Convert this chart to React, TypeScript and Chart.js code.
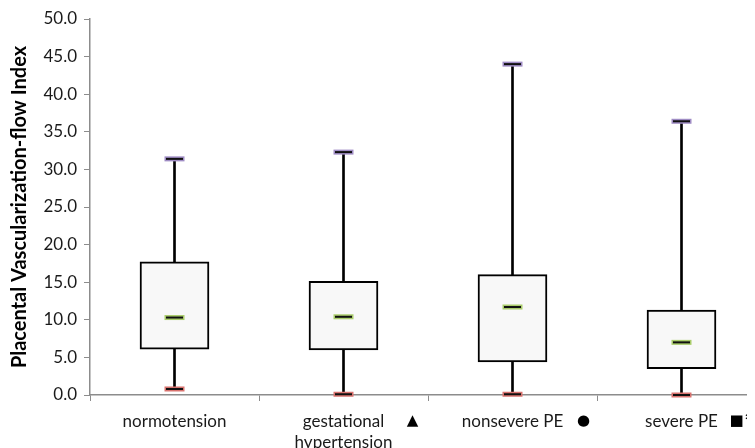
import React, { useEffect, useRef } from "react";
import { Chart, registerables } from "chart.js";

Chart.register(...registerables);

const categories: (string | string[])[] = [
  "normotension",
  ["gestational", "hypertension"],
  "nonsevere PE",
  "severe PE",
];
const markers = ["", "▲", "●", "■"];
const extraMarks = ["", "", "", "*"];
const minVals = [0.8, 0.1, 0.1, 0.0];
const q1Vals = [6.1, 6.0, 4.4, 3.5];
const medianVals = [10.3, 10.4, 11.7, 7.0];
const q3Vals = [17.7, 15.1, 16.0, 11.3];
const maxVals = [31.4, 32.3, 44.0, 36.4];
const yTicks = { min: 0, max: 50, step: 5 };
const yTitle = "Placental Vascularization-flow Index";

const FONT = "Lato, 'Open Sans', sans-serif";

const capPlugin = {
  id: "caps",
  afterDatasetsDraw(chart: any) {
    const { ctx, scales } = chart;
    const x = scales.x;
    const y = scales.y;
    const drawCap = (cx: number, v: number, color: string) => {
      const cy = y.getPixelForValue(v);
      ctx.save();
      ctx.fillStyle = color;
      ctx.fillRect(cx - 10, cy - 2.5, 20, 5);
      ctx.fillStyle = "#111111";
      ctx.fillRect(cx - 8.5, cy - 1, 17, 2);
      ctx.restore();
    };
    categories.forEach((_, i) => {
      const cx = x.getPixelForValue(i);
      drawCap(cx, maxVals[i], "#9f8cc4");
      drawCap(cx, minVals[i], "#d9736f");
      drawCap(cx, medianVals[i], "#a9cc6a");
    });
  },
  afterDraw(chart: any) {
    const { ctx, scales } = chart;
    const x = scales.x;
    const dx = [0, 69, 71, 55];
    const ty = chart.chartArea.bottom + 26;
    ctx.save();
    ctx.fillStyle = "#000000";
    ctx.textAlign = "center";
    ctx.textBaseline = "middle";
    ctx.font = "15px 'DejaVu Sans'";
    markers.forEach((m, i) => {
      if (!m) return;
      const cx = x.getPixelForValue(i) + dx[i];
      ctx.fillText(m, cx, ty);
    });
    ctx.font = "bold 16px 'DejaVu Sans'";
    extraMarks.forEach((m, i) => {
      if (!m) return;
      const cx = x.getPixelForValue(i) + 68;
      ctx.fillText(m, cx, ty);
    });
    ctx.restore();
  },
};

export default function App() {
  const ref = useRef<HTMLCanvasElement>(null);
  useEffect(() => {
    if (!ref.current) return;
    const chart = new Chart(ref.current, {
      type: "bar",
      data: {
        labels: categories as any,
        datasets: [
          {
            label: "box",
            data: q1Vals.map((q1, i) => [q1, q3Vals[i]]) as any,
            backgroundColor: "#f8f8f8",
            borderColor: "#000000",
            borderWidth: 2,
            borderSkipped: false,
            barThickness: 69,
            grouped: false,
            order: 0,
          },
          {
            label: "whisker",
            data: minVals.map((mn, i) => [mn, maxVals[i]]) as any,
            backgroundColor: "#000000",
            borderWidth: 0,
            barThickness: 2,
            grouped: false,
            order: 1,
          },
        ],
      },
      options: {
        animation: false,
        responsive: false,
        devicePixelRatio: 1,
        layout: { padding: { top: 11, right: 32, left: 0, bottom: 0 } },
        plugins: {
          legend: { display: false },
          tooltip: { enabled: false },
        },
        scales: {
          x: {
            offset: true,
            grid: {
              display: true,
              drawOnChartArea: false,
              drawTicks: true,
              tickLength: 6,
              color: "#8c8c8c",
              offset: true,
            },
            border: { color: "#8c8c8c", width: 1.5 },
            ticks: {
              color: "#1a1a1a",
              font: { family: FONT, size: 17, lineHeight: 1.25 },
              padding: 10,
              maxRotation: 0,
              autoSkip: false,
            },
            afterFit: (s: any) => {
              s.height = 53;
            },
          },
          y: {
            min: yTicks.min,
            max: yTicks.max,
            ticks: {
              stepSize: yTicks.step,
              color: "#1a1a1a",
              font: { family: FONT, size: 17 },
              padding: 7,
              callback: (v: any) => Number(v).toFixed(1),
            },
            grid: {
              display: true,
              drawOnChartArea: false,
              drawTicks: true,
              tickLength: 6,
              color: "#8c8c8c",
            },
            border: { color: "#8c8c8c", width: 1.5 },
            title: {
              display: true,
              text: yTitle,
              color: "#000000",
              font: { family: FONT, size: 20, weight: "bold" },
              padding: { top: 0, bottom: 0 },
            },
            afterFit: (s: any) => {
              s.width = 82;
              s.paddingTop = 8;
              s.paddingBottom = 0;
            },
          },
        },
      },
      plugins: [capPlugin],
    });
    return () => chart.destroy();
  }, []);
  return (
    <div style={{ width: 747, height: 440, overflow: "hidden", position: "relative" }}>
      <canvas ref={ref} width={790} height={440} style={{ display: "block" }} />
    </div>
  );
}
